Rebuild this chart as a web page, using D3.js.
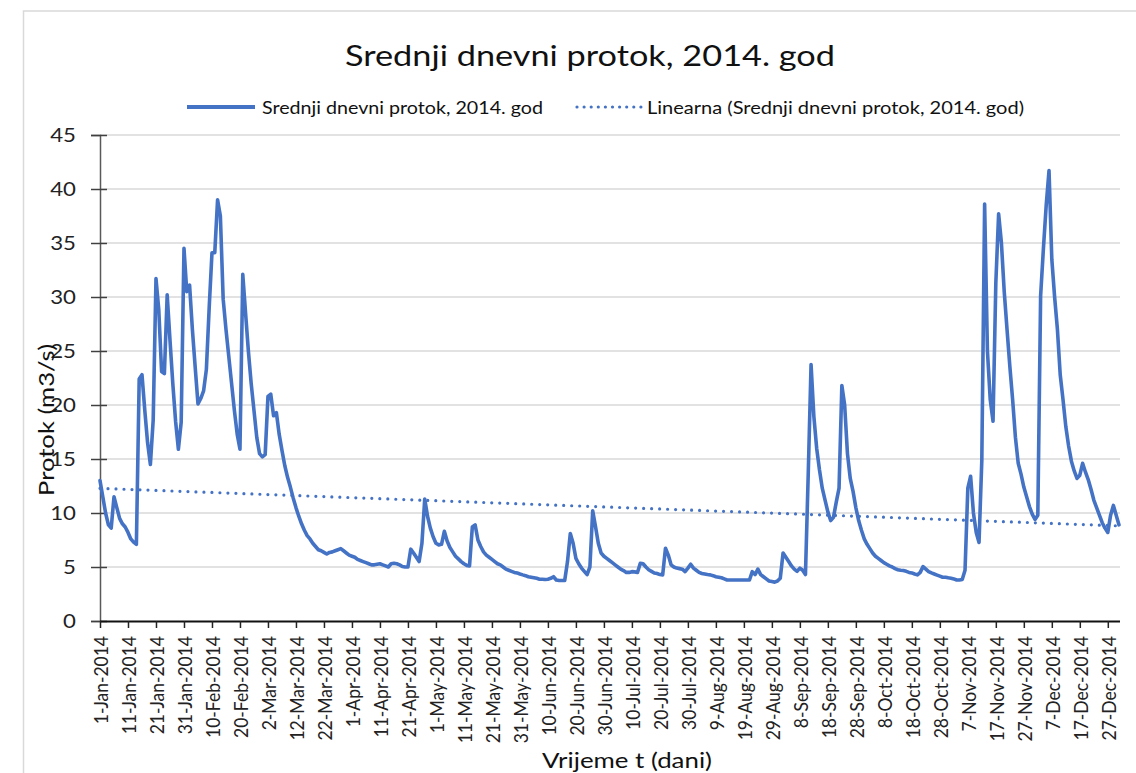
<!DOCTYPE html>
<html>
<head>
<meta charset="utf-8">
<script src="https://cdn.jsdelivr.net/npm/d3@7/dist/d3.min.js"></script>
<style>
  html, body { margin: 0; padding: 0; background: #ffffff; }
  svg { display: block; font-family: Lato, "Open Sans", "Liberation Sans", sans-serif; }
</style>
</head>
<body>
<script>
// ---------------- DATA ----------------
const chartTitle = "Srednji dnevni protok, 2014. god";
const seriesName = "Srednji dnevni protok, 2014. god";
const trendName = "Linearna (Srednji dnevni protok, 2014. god)";
const xAxisTitle = "Vrijeme t (dani)";
const yAxisTitle = "Protok (m3/s)";
const startDate = "2014-01-01";
const yTicks = [0, 5, 10, 15, 20, 25, 30, 35, 40, 45];
const xTickStepDays = 10;
// mean daily discharge (m3/s), one value per day from 1-Jan-2014 to 31-Dec-2014
const dailyFlow = [
  13.0, 11.5, 10.0, 8.9, 8.6, 11.5, 10.5, 9.5, 9.0, 8.7,
  8.2, 7.6, 7.3, 7.1, 22.4, 22.8, 19.5, 16.5, 14.5, 18.6,
  31.7, 28.8, 23.1, 22.9, 30.2, 26.0, 22.0, 18.5, 15.9, 18.4,
  34.5, 30.5, 31.1, 27.0, 23.5, 20.1, 20.6, 21.3, 23.3, 29.0,
  34.1, 34.1, 39.0, 37.5, 29.8, 27.0, 24.5, 22.0, 19.5, 17.3,
  15.9, 32.1, 28.5, 25.0, 22.0, 19.5, 17.0, 15.5, 15.2, 15.4,
  20.8, 21.0, 19.0, 19.3, 17.3, 15.8, 14.4, 13.3, 12.4, 11.4,
  10.5, 9.7, 9.0, 8.4, 7.9, 7.6, 7.2, 6.9, 6.6, 6.5,
  6.35, 6.2, 6.35, 6.4, 6.5, 6.6, 6.7, 6.5, 6.3, 6.1,
  6.0, 5.9, 5.7, 5.6, 5.5, 5.4, 5.3, 5.2, 5.2, 5.25,
  5.3, 5.2, 5.1, 5.0, 5.3, 5.35, 5.3, 5.2, 5.05, 5.0,
  5.0, 6.65, 6.3, 5.9, 5.5, 7.2, 11.3, 9.7, 8.6, 7.8,
  7.2, 7.05, 7.1, 8.3, 7.4, 6.8, 6.4, 6.0, 5.75, 5.5,
  5.3, 5.15, 5.1, 8.7, 8.9, 7.5, 6.9, 6.4, 6.1, 5.9,
  5.7, 5.5, 5.3, 5.2, 5.0, 4.8, 4.7, 4.6, 4.5, 4.45,
  4.35, 4.27, 4.2, 4.1, 4.05, 4.0, 3.95, 3.87, 3.87, 3.85,
  3.87, 3.95, 4.1, 3.8, 3.75, 3.75, 3.75, 5.5, 8.1, 7.2,
  5.8, 5.3, 4.9, 4.6, 4.3, 5.0, 10.2, 8.75, 7.2, 6.3,
  6.0, 5.8, 5.6, 5.4, 5.2, 5.0, 4.8, 4.67, 4.5, 4.5,
  4.57, 4.55, 4.5, 5.35, 5.3, 5.0, 4.75, 4.6, 4.45, 4.4,
  4.3, 4.27, 6.74, 6.1, 5.2, 5.0, 4.9, 4.85, 4.8, 4.57,
  4.9, 5.26, 4.9, 4.7, 4.5, 4.4, 4.35, 4.3, 4.27, 4.2,
  4.1, 4.05, 4.0, 3.9, 3.8, 3.8, 3.8, 3.8, 3.8, 3.8,
  3.8, 3.8, 3.8, 4.57, 4.3, 4.8, 4.3, 4.1, 3.9, 3.7,
  3.65, 3.6, 3.7, 3.96, 6.3, 5.9, 5.5, 5.1, 4.8, 4.6,
  4.9, 4.7, 4.3, 13.7, 23.75, 18.95, 16.0, 14.0, 12.3, 11.2,
  10.1, 9.3, 9.6, 11.0, 12.3, 21.8, 20.0, 15.5, 13.2, 12.0,
  10.5, 9.3, 8.4, 7.6, 7.1, 6.7, 6.3, 6.0, 5.8, 5.6,
  5.4, 5.25, 5.1, 5.0, 4.85, 4.75, 4.7, 4.67, 4.6, 4.5,
  4.45, 4.35, 4.27, 4.5, 5.04, 4.8, 4.57, 4.45, 4.35, 4.25,
  4.15, 4.05, 4.05, 4.0, 3.96, 3.9, 3.8, 3.8, 3.85, 4.7,
  12.3, 13.4, 10.0, 8.2, 7.27, 14.9, 38.6, 25.0, 20.5, 18.5,
  31.3, 37.7, 35.0, 30.5, 27.0, 23.6, 20.5, 17.0, 14.6, 13.6,
  12.4, 11.5, 10.6, 9.9, 9.4, 9.8, 30.1, 34.5, 38.5, 41.7,
  33.5, 30.0, 27.0, 22.8, 20.5, 18.0, 16.2, 14.8, 13.9, 13.2,
  13.5, 14.6, 13.8, 13.1, 12.2, 11.2, 10.5, 9.8, 9.1, 8.6,
  8.2, 9.8, 10.7, 9.8, 8.9
];

// ---------------- BUILD ----------------
const W = 1136, H = 773;
const plot = { left: 100, right: 1119, top: 135, bottom: 621 };
const blue = "#4472C4";

const t0 = new Date(startDate + "T00:00:00Z");
const data = dailyFlow.map((v, i) => ({ date: d3.utcDay.offset(t0, i), i, v }));

const x = d3.scaleUtc()
  .domain([data[0].date, data[data.length - 1].date])
  .range([plot.left, plot.right]);
const y = d3.scaleLinear().domain([0, 45]).range([plot.bottom, plot.top]);

const svg = d3.select("body").append("svg").attr("width", W).attr("height", H);
svg.append("rect").attr("width", W).attr("height", H).attr("fill", "#fff");

// chart frame
svg.append("rect").attr("x", 23.5).attr("y", 11).attr("width", 1300).attr("height", 900)
  .attr("fill", "none").attr("stroke", "#d9d9d9").attr("stroke-width", 1.5);

// title
svg.append("text").attr("x", 590).attr("y", 66).attr("text-anchor", "middle")
  .attr("font-size", 29).attr("fill", "#111")
  .attr("textLength", 490).attr("lengthAdjust", "spacingAndGlyphs")
  .text(chartTitle);

// legend
const lg = svg.append("g");
lg.append("line").attr("x1", 187).attr("x2", 255).attr("y1", 107).attr("y2", 107)
  .attr("stroke", blue).attr("stroke-width", 3.8);
lg.append("text").attr("x", 262).attr("y", 113.5).attr("font-size", 18).attr("fill", "#111")
  .attr("textLength", 281).attr("lengthAdjust", "spacingAndGlyphs").text(seriesName);
lg.append("line").attr("x1", 577).attr("x2", 641).attr("y1", 107).attr("y2", 107)
  .attr("stroke", blue).attr("stroke-width", 3.2).attr("stroke-linecap", "round")
  .attr("stroke-dasharray", "0,7.1");
lg.append("text").attr("x", 647).attr("y", 113.5).attr("font-size", 18).attr("fill", "#111")
  .attr("textLength", 377).attr("lengthAdjust", "spacingAndGlyphs").text(trendName);

// gridlines
svg.append("g").selectAll("line").data(yTicks.filter(d => d > 0)).join("line")
  .attr("x1", plot.left).attr("x2", 1120)
  .attr("y1", d => y(d)).attr("y2", d => y(d))
  .attr("stroke", "#d9d9d9").attr("stroke-width", 1.5);

// y axis
const yAxisG = svg.append("g").attr("transform", `translate(${plot.left},0)`)
  .call(d3.axisLeft(y).tickValues(yTicks).tickSizeOuter(0).tickSize(9));
yAxisG.select(".domain").attr("stroke", "#595959").attr("stroke-width", 1.5);
yAxisG.selectAll(".tick line").attr("x1", 7).attr("x2", -9)
  .attr("stroke", "#404040").attr("stroke-width", 1.5);
yAxisG.selectAll(".tick text")
  .attr("x", null).attr("dy", "0.36em")
  .attr("transform", "translate(-24,0) scale(1.2,1)")
  .attr("text-anchor", "end")
  .attr("font-family", "Lato, 'Open Sans', sans-serif")
  .attr("font-size", 18.5).attr("fill", "#222");

// x axis
const xTickDates = d3.range(0, dailyFlow.length, xTickStepDays).map(i => data[i].date);
const fmt = d3.utcFormat("%-d-%b-%Y");
const xAxisG = svg.append("g").attr("transform", `translate(0,${plot.bottom})`)
  .call(d3.axisBottom(x).tickValues(xTickDates).tickFormat(fmt).tickSizeOuter(0).tickSize(7));
xAxisG.select(".domain").attr("stroke", "#111").attr("stroke-width", 2)
  .attr("d", `M${plot.left},0.5H1120`);
xAxisG.selectAll(".tick line").attr("stroke", "#222").attr("stroke-width", 1.5);
xAxisG.selectAll(".tick text")
  .attr("transform", "rotate(-90) scale(1,1.15)")
  .attr("x", -15).attr("y", 0).attr("dy", "0.36em")
  .attr("text-anchor", "end")
  .attr("font-family", "Lato, 'Open Sans', sans-serif")
  .attr("font-size", 17.5).attr("fill", "#222");

// axis titles
svg.append("text").attr("x", 627).attr("y", 768).attr("text-anchor", "middle")
  .attr("font-size", 22).attr("fill", "#111")
  .attr("textLength", 170).attr("lengthAdjust", "spacingAndGlyphs").text(xAxisTitle);
svg.append("text").attr("transform", "translate(54,420) rotate(-90)")
  .attr("text-anchor", "middle").attr("font-size", 21).attr("fill", "#111")
  .attr("textLength", 152).attr("lengthAdjust", "spacingAndGlyphs").text(yAxisTitle);

// linear trend (least squares on the data)
const n = data.length;
const mx = d3.mean(data, d => d.i), my = d3.mean(data, d => d.v);
const slope = d3.sum(data, d => (d.i - mx) * (d.v - my)) / d3.sum(data, d => (d.i - mx) ** 2);
const icpt = my - slope * mx;
const trend = [data[0], data[n - 1]].map(d => ({ date: d.date, v: icpt + slope * d.i }));

// series line
svg.append("path").datum(data)
  .attr("fill", "none").attr("stroke", blue).attr("stroke-width", 3.6)
  .attr("stroke-linejoin", "round").attr("stroke-linecap", "round")
  .attr("d", d3.line().x(d => x(d.date)).y(d => y(d.v)));

// trend line
svg.append("path").datum(trend)
  .attr("fill", "none").attr("stroke", blue).attr("stroke-width", 3.2)
  .attr("stroke-linecap", "round").attr("stroke-dasharray", "0,8")
  .attr("d", d3.line().x(d => x(d.date)).y(d => y(d.v)));
</script>
</body>
</html>
